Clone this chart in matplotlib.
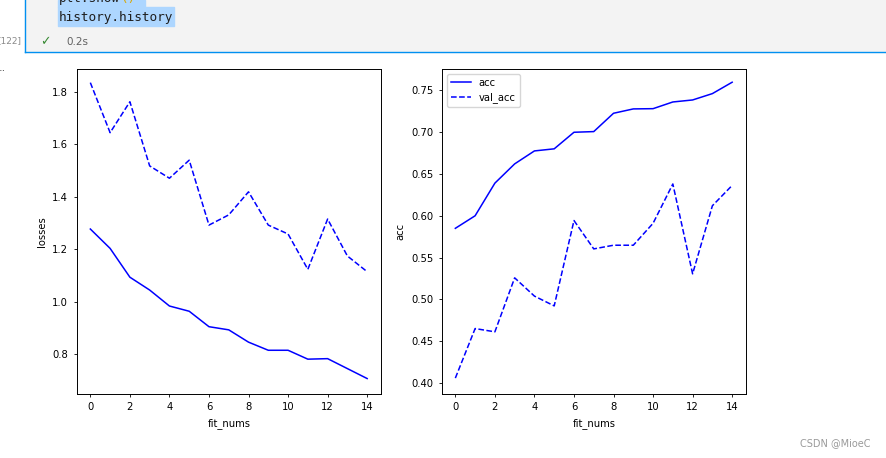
import matplotlib
matplotlib.use('Agg')
import matplotlib.pyplot as plt
from matplotlib.patches import Rectangle
from matplotlib.lines import Line2D

# 训练记录
epochs = list(range(15))
loss = [1.277, 1.203, 1.093, 1.044, 0.983, 0.963, 0.904, 0.892, 0.845, 0.814,
        0.814, 0.780, 0.782, 0.744, 0.706]
val_loss = [1.836, 1.645, 1.763, 1.518, 1.471, 1.540, 1.292, 1.331, 1.419, 1.292,
            1.258, 1.123, 1.315, 1.174, 1.114]
acc = [0.585, 0.600, 0.639, 0.662, 0.6775, 0.680, 0.6998, 0.7006, 0.7225, 0.7277,
       0.728, 0.736, 0.7384, 0.746, 0.7596]
val_acc = [0.406, 0.4652, 0.4613, 0.5258, 0.504, 0.4923, 0.5943, 0.5604, 0.5648, 0.5648,
           0.591, 0.638, 0.5306, 0.612, 0.6363]

W, H = 886, 458
plt.rcParams['font.family'] = ['DejaVu Sans']
plt.rcParams['font.size'] = 7.2
plt.rcParams['xtick.major.size'] = 2.5
plt.rcParams['ytick.major.size'] = 2.5
plt.rcParams['xtick.major.width'] = 0.6
plt.rcParams['ytick.major.width'] = 0.6
plt.rcParams['axes.linewidth'] = 0.7

fig = plt.figure(figsize=(W / 100, H / 100), dpi=100)

def box(x0, y0, x1, y1):
    # 像素 -> figure 坐标
    return (x0 / W, 1 - y1 / H, (x1 - x0) / W, (y1 - y0) / H)

def fx(x):
    return x / W

def fy(y):
    return 1 - y / H

# notebook 单元格外观
x, y, w, h = box(25, 0, W, 52)
fig.add_artist(Rectangle((x, y), w, h, transform=fig.transFigure, color='#f3f3f3', zorder=0))
x, y, w, h = box(58, 0, 145, 7)
fig.add_artist(Rectangle((x, y), w, h, transform=fig.transFigure, color='#add6ff', zorder=1))
x, y, w, h = box(58, 7, 174, 26)
fig.add_artist(Rectangle((x, y), w, h, transform=fig.transFigure, color='#add6ff', zorder=1))
fig.add_artist(Line2D([fx(25), fx(W)], [fy(52), fy(52)], transform=fig.transFigure,
                      color='#0090f1', lw=1.0))
fig.add_artist(Line2D([fx(25), fx(25)], [fy(0), fy(52)], transform=fig.transFigure,
                      color='#0090f1', lw=1.0))
fig.text(fx(59), fy(-2), 'plt.show', family='DejaVu Sans Mono', fontsize=9.2,
         color='#1f1f1f', va='center', ha='left')
fig.text(fx(59 + 8 * 7.7), fy(-2), '()', family='DejaVu Sans Mono', fontsize=9.2,
         color='#d9a700', va='center', ha='left')
fig.text(fx(59), fy(17), 'history.history', family='DejaVu Sans Mono', fontsize=9.2,
         color='#1f1f1f', va='center', ha='left')
fig.text(fx(21), fy(41), '[122]', fontsize=6.5, color='#8a8a8a', va='center', ha='right')
fig.text(fx(40), fy(42), '\u2713', fontsize=9, color='#388a34', va='center', ha='left')
fig.text(fx(66), fy(42), '0.2s', fontsize=7.5, color='#616161', va='center', ha='left')
fig.text(fx(-1), fy(68), '..', fontsize=8, color='#444444', va='center', ha='left')
fig.text(fx(871), fy(443), 'CSDN @MioeC', fontsize=7, color='#9a9a9a', va='center', ha='right')

# 左图: losses
ax1 = fig.add_axes(box(76.5, 68.5, 381, 394))
ax1.plot(epochs, loss, 'b-', lw=1.1, label='loss')
ax1.plot(epochs, val_loss, 'b--', lw=1.1, label='val_loss')
ax1.set_xticks(range(0, 15, 2))
ax1.set_yticks([0.8, 1.0, 1.2, 1.4, 1.6, 1.8])
ax1.set_ylim(0.647, 1.890)
ax1.set_xlim(-0.7, 14.7)
ax1.set_xlabel('fit_nums')
ax1.set_ylabel('losses')

# 右图: acc
ax2 = fig.add_axes(box(441.5, 68.5, 746, 394))
ax2.plot(epochs, acc, 'b-', lw=1.1, label='acc')
ax2.plot(epochs, val_acc, 'b--', lw=1.1, label='val_acc')
ax2.set_xticks(range(0, 15, 2))
ax2.set_yticks([0.40, 0.45, 0.50, 0.55, 0.60, 0.65, 0.70, 0.75])
ax2.set_ylim(0.387, 0.776)
ax2.set_xlim(-0.7, 14.7)
ax2.set_xlabel('fit_nums')
ax2.set_ylabel('acc')
ax2.legend(loc='upper left', fontsize=7.2)

fig.savefig('out.png', dpi=100)
